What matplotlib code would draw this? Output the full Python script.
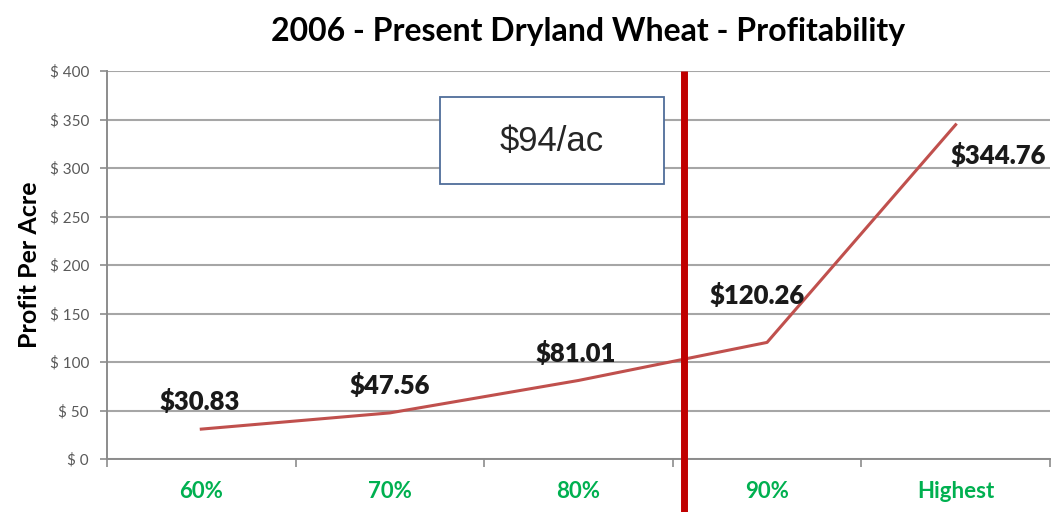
import numpy as np
import matplotlib.pyplot as plt
from matplotlib.patches import Rectangle
from matplotlib.ticker import FixedLocator, NullFormatter

categories = ["60%", "70%", "80%", "90%", "Highest"]
profit = [30.83, 47.56, 81.01, 120.26, 344.76]
labels = ["$30.83", "$47.56", "$81.01", "$120.26", "$344.76"]
y_ticks = [0, 50, 100, 150, 200, 250, 300, 350, 400]
y_ticklabels = ["$ 0", "$ 50", "$ 100", "$ 150", "$ 200", "$ 250", "$ 300", "$ 350", "$ 400"]
break_even_pos = 2.56      # vertical marker between 80% and 90%
box_text = "$94/ac"

LINE = "#C0504D"
MARK = "#C00000"
GRID = "#A6A6A6"
GREEN = "#00B050"

plt.rcParams["font.family"] = ["Lato", "DejaVu Sans"]

fig = plt.figure(figsize=(10.53, 5.12), dpi=100)
ax = fig.add_axes([0.1016, 0.1035, 0.8955, 0.7575])

x = np.arange(len(categories))
ax.plot(x, profit, color=LINE, lw=2.2, zorder=3)

# data labels (offsets in points from each point)
offsets = [(-1, 20), (0, 19.5), (-2, 19.5), (-7, 34), (31, -22)]
for xi, yi, lab, off in zip(x, profit, labels, offsets):
    ax.annotate(lab, (xi, yi), xytext=off, textcoords="offset points",
                ha="center", va="center", fontsize=18.5, fontweight="heavy",
                color="#1a1a1a", zorder=4)

ax.set_xlim(-0.5, len(categories) - 0.5)
ax.set_ylim(0, 400)
ax.set_yticks(y_ticks)
ax.set_yticklabels(y_ticklabels, fontsize=11, color="#595959")
ax.set_xticks(x)
ax.set_xticklabels(categories, fontsize=16, fontweight="bold", color=GREEN)
ax.tick_params(axis="x", length=0, pad=16)
ax.xaxis.set_minor_locator(FixedLocator(np.arange(-0.5, len(categories), 1.0)))
ax.xaxis.set_minor_formatter(NullFormatter())
ax.tick_params(axis="x", which="minor", length=6, width=1.2, color="#8c8c8c")
ax.tick_params(axis="y", length=5, width=1.2, color="#8c8c8c", pad=8)

ax.grid(axis="y", color=GRID, lw=1.5)
ax.set_axisbelow(True)
for s in ["top", "right"]:
    ax.spines[s].set_visible(False)
for s in ["left", "bottom"]:
    ax.spines[s].set_color("#8c8c8c")
    ax.spines[s].set_linewidth(1.4)

ax.set_ylabel("Profit Per Acre", fontsize=18, fontweight="bold", labelpad=6)
ax.set_title("2006 - Present Dryland Wheat - Profitability", fontsize=23,
             fontweight="bold", pad=22, x=0.51)

# break-even marker
ax.axvline(break_even_pos, ymin=-0.14, ymax=1.0, color=MARK, lw=5,
           solid_capstyle="butt", clip_on=False, zorder=5)

# callout box
ax.add_patch(Rectangle((0.353, 0.709), 0.238, 0.224, transform=ax.transAxes,
                       facecolor="white", edgecolor="#4F6D9A", lw=1.3, zorder=4))
ax.text(0.472, 0.818, box_text, transform=ax.transAxes, ha="center",
        va="center", fontsize=25, color="#262626",
        family=["Liberation Sans", "DejaVu Sans"], zorder=5)

fig.savefig("out.png", dpi=100, facecolor="white")
